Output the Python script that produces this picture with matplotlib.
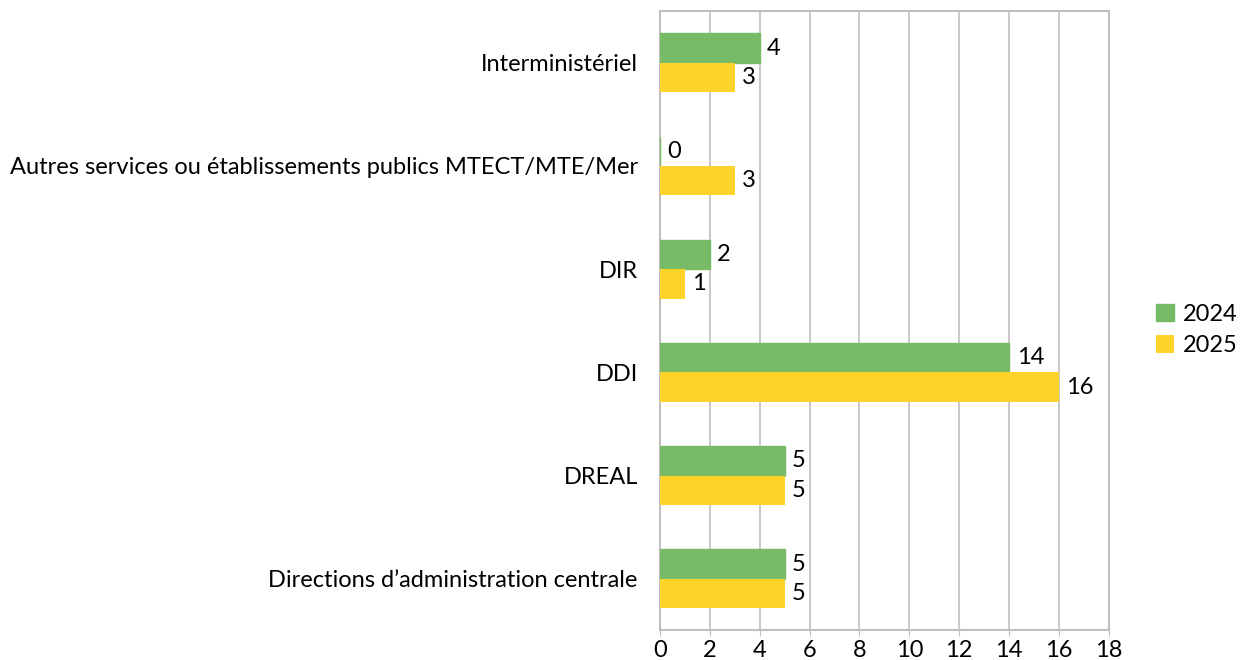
import numpy as np
import matplotlib.pyplot as plt

plt.rcParams['font.family'] = ['Lato', 'DejaVu Sans']

categories = ['Interministériel',
              'Autres services ou établissements publics MTECT/MTE/Mer',
              'DIR', 'DDI', 'DREAL',
              'Directions d\u2019administration centrale']
v2024 = [4, 0, 2, 14, 5, 5]
v2025 = [3, 3, 1, 16, 5, 5]

green = '#77BB66'
yellow = '#FFD42A'
grey = '#BFBFBF'

fig = plt.figure(figsize=(12.43, 6.6), dpi=100)
ax = fig.add_axes([0.531, 0.045, 0.361, 0.938])

y = np.arange(len(categories))
h = 0.285
b1 = ax.barh(y - h / 2, v2024, height=h, color=green, edgecolor=green,
             linewidth=1.0, label='2024', zorder=3)
b2 = ax.barh(y + h / 2, v2025, height=h, color=yellow, label='2025', zorder=3)

for bars in (b1, b2):
    for r in bars:
        w = r.get_width()
        ax.text(w + 0.3, r.get_y() + r.get_height() / 2, f'{w:.0f}',
                va='center', ha='left', fontsize=17)

ax.set_ylim(len(categories) - 0.5, -0.5)
ax.set_xlim(0, 18)
ax.set_xticks(range(0, 19, 2))
ax.set_yticks(y)
ax.set_yticklabels(categories, fontsize=17)
ax.tick_params(axis='x', labelsize=17, length=4, color=grey, pad=3)
ax.tick_params(axis='y', length=0, pad=16)
ax.xaxis.grid(True, color=grey, linewidth=1.2)
ax.set_axisbelow(True)
for s in ax.spines.values():
    s.set_color(grey)
    s.set_linewidth(1.5)

fig.legend(handles=[b1, b2], loc='center left', bbox_to_anchor=(0.93, 0.5),
           frameon=False, fontsize=17, handlelength=0.75, handleheight=0.75,
           handletextpad=0.4, labelspacing=0.45, borderpad=0, borderaxespad=0)

fig.savefig('out.png', dpi=100)
